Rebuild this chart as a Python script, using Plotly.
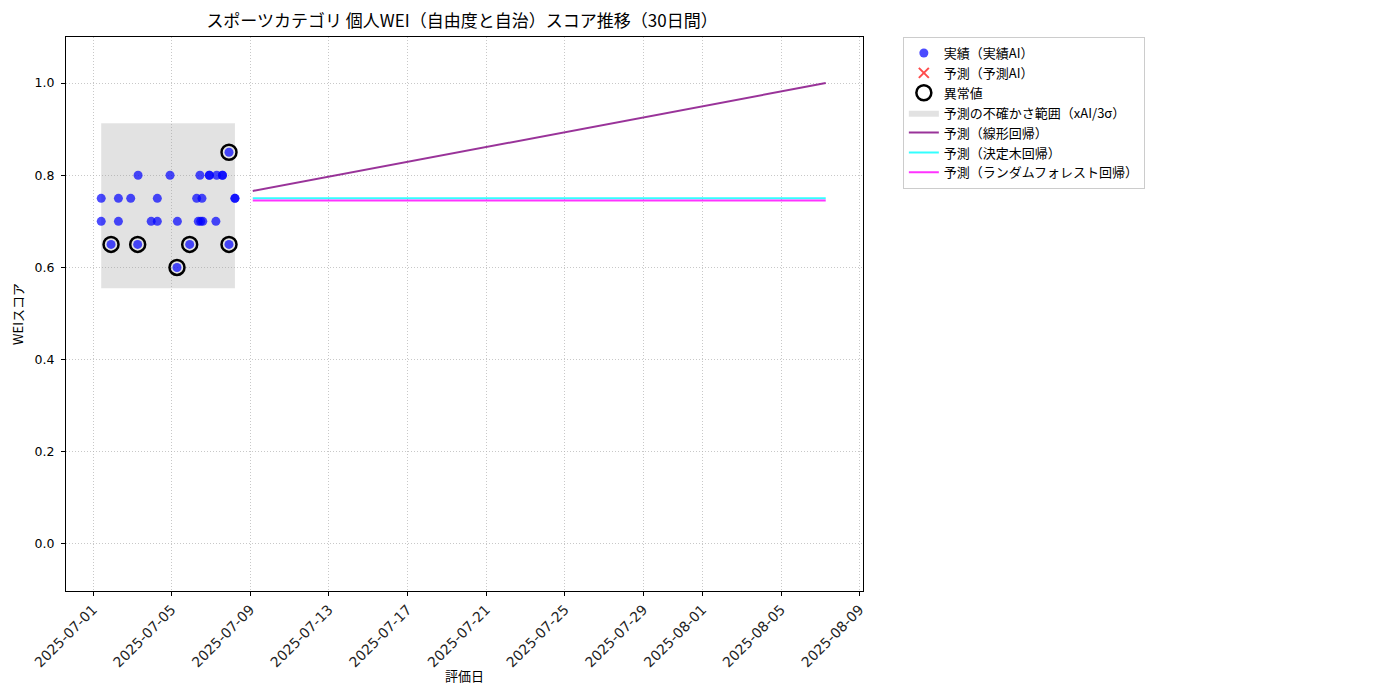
import plotly.graph_objects as go

# 実績データ（評価日時とスコア）
actual_dates = [
    "2025-07-01 10:00", "2025-07-01 10:00", "2025-07-01 22:00", "2025-07-02 07:00",
    "2025-07-02 07:00", "2025-07-02 22:00", "2025-07-03 06:30", "2025-07-03 07:00",
    "2025-07-03 23:00", "2025-07-04 06:30", "2025-07-04 06:30", "2025-07-04 22:00",
    "2025-07-05 06:30", "2025-07-05 07:00", "2025-07-05 22:00", "2025-07-06 06:30",
    "2025-07-06 08:30", "2025-07-06 10:30", "2025-07-06 11:30", "2025-07-06 13:00",
    "2025-07-06 14:00", "2025-07-06 22:00", "2025-07-06 22:00", "2025-07-07 06:00",
    "2025-07-07 07:00", "2025-07-07 14:00", "2025-07-07 14:00", "2025-07-07 22:00",
    "2025-07-07 22:00", "2025-07-08 05:15", "2025-07-08 05:15",
]
actual_scores = [
    0.75, 0.70, 0.65, 0.75,
    0.70, 0.75, 0.65, 0.80,
    0.70, 0.75, 0.70, 0.80,
    0.60, 0.70, 0.65, 0.75,
    0.70, 0.80, 0.70, 0.75,
    0.70, 0.80, 0.80, 0.70,
    0.80, 0.80, 0.80, 0.85,
    0.65, 0.75, 0.75,
]

# 異常値
outlier_dates = ["2025-07-01 22:00", "2025-07-03 06:30", "2025-07-05 06:30",
                 "2025-07-05 22:00", "2025-07-07 22:00", "2025-07-07 22:00"]
outlier_scores = [0.65, 0.65, 0.60, 0.65, 0.85, 0.65]

# 不確かさ範囲
band_dates = ["2025-07-01 10:00", "2025-07-08 05:15"]
band_lower = 0.555
band_upper = 0.913

# 予測（30日間）
pred_dates = ["2025-07-09 03:00", "2025-08-07 06:30"]
pred_linear = [0.766, 1.0]
pred_tree = [0.750, 0.750]
pred_rf = [0.745, 0.745]

tick_dates = ["2025-07-01", "2025-07-05", "2025-07-09", "2025-07-13", "2025-07-17",
              "2025-07-21", "2025-07-25", "2025-07-29", "2025-08-01", "2025-08-05",
              "2025-08-09"]

fig = go.Figure()

fig.add_trace(go.Scatter(
    x=[band_dates[0], band_dates[1], band_dates[1], band_dates[0], band_dates[0]],
    y=[band_lower, band_lower, band_upper, band_upper, band_lower],
    fill="toself", fillcolor="rgba(160,160,160,0.3)", line=dict(width=0),
    mode="lines", name="予測の不確かさ範囲（xAI/3σ）", legendrank=4,
))

fig.add_trace(go.Scatter(
    x=actual_dates, y=actual_scores, mode="markers", name="実績（実績AI）",
    marker=dict(color="rgba(0,0,255,0.7)", size=9), legendrank=1,
))

fig.add_trace(go.Scatter(
    x=[None], y=[None], mode="markers", name="予測（予測AI）",
    marker=dict(color="rgba(255,0,0,0.7)", symbol="x-thin", size=10,
                line=dict(color="rgba(255,0,0,0.7)", width=2)), legendrank=2,
))

fig.add_trace(go.Scatter(
    x=outlier_dates, y=outlier_scores, mode="markers", name="異常値",
    marker=dict(color="rgba(0,0,0,0)", size=15, line=dict(color="black", width=2.5)),
    legendrank=3,
))

fig.add_trace(go.Scatter(
    x=pred_dates, y=pred_linear, mode="lines", name="予測（線形回帰）",
    line=dict(color="rgba(128,0,128,0.8)", width=2), legendrank=5,
))
fig.add_trace(go.Scatter(
    x=pred_dates, y=pred_tree, mode="lines", name="予測（決定木回帰）",
    line=dict(color="rgba(0,255,255,0.8)", width=2), legendrank=6,
))
fig.add_trace(go.Scatter(
    x=pred_dates, y=pred_rf, mode="lines", name="予測（ランダムフォレスト回帰）",
    line=dict(color="rgba(255,0,255,0.8)", width=2), legendrank=7,
))

grid = dict(showgrid=True, gridcolor="rgba(176,176,176,0.7)", griddash="1px,2px", gridwidth=1,
            showline=True, linecolor="black", linewidth=1, mirror=True,
            ticks="outside", ticklen=4, tickcolor="black", zeroline=False,
            automargin=False)

fig.update_layout(
    width=1400, height=700,
    margin=dict(l=58, r=545, t=29, b=117),
    paper_bgcolor="white", plot_bgcolor="white",
    font=dict(family="Noto Sans CJK JP", size=12, color="black"),
    title=dict(text="スポーツカテゴリ 個人WEI（自由度と自治）スコア推移（30日間）",
               xref="container", x=0.3243, xanchor="center", y=0.981, yanchor="middle",
               font=dict(size=17)),
    xaxis=dict(range=["2025-06-29 15:00", "2025-08-09 04:00"], tickvals=tick_dates,
               tickformat="%Y-%m-%d", tickangle=-45,
               tickfont=dict(family="DejaVu Sans", size=14, color="#222222"), **grid),
    yaxis=dict(range=[-0.102, 1.1], tickvals=[0.0, 0.2, 0.4, 0.6, 0.8, 1.0],
               tickformat=".1f", tickfont=dict(family="DejaVu Sans", size=12.5),
               ticklabelstandoff=4,
               title=dict(text="WEIスコア", standoff=10, font=dict(size=13)), **grid),
    legend=dict(x=1.05, y=1.0, xanchor="left", yanchor="top",
                bordercolor="#cccccc", borderwidth=1, bgcolor="white",
                font=dict(size=13), tracegroupgap=0, itemwidth=30),
    annotations=[dict(text="評価日", xref="paper", yref="paper", x=0.5, y=-0.153,
                      xanchor="center", yanchor="middle", showarrow=False,
                      font=dict(size=13))],
)

fig.write_html("out.html")
